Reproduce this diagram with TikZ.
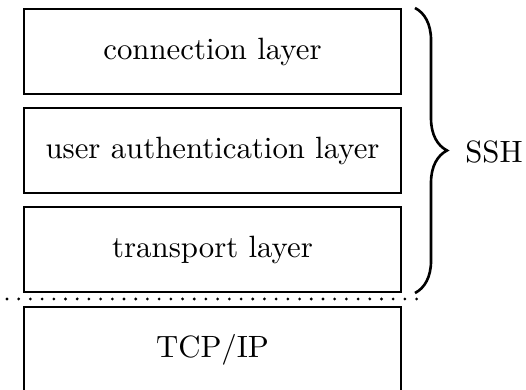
\documentclass[tikz,border=0pt]{standalone}
\usetikzlibrary{decorations.pathreplacing}
\begin{document}
\begin{tikzpicture}[x=0.3247pt, y=-0.3247pt,
  layerbox/.style={draw, line width=0.65pt, inner sep=0pt,
    minimum width=122.4pt, minimum height=27.3pt},
  sepline/.style={line width=1pt, line cap=round, dash pattern=on 0pt off 3.8pt},
  bracestyle/.style={line width=0.85pt, decorate,
    decoration={brace, amplitude=10.4pt}}]
  \useasboundingbox (0,0) rectangle (526,390);
  \clip (0,0) rectangle (526,390);
  % protocol stack
  \node[layerbox] (conn) at (212.5,51.5) {connection layer};
  \node[layerbox] (auth) at (212.5,150.5) {user authentication layer};
  \node[layerbox] (trans) at (212.5,249.5) {transport layer};
  \node[layerbox] (tcp) at (212.5,349.5) {TCP/IP};
  % boundary between SSH and the underlying transport
  \coordinate (sepL) at (7,299);
  \coordinate (sepR) at (419,299);
  \draw[sepline] (sepL) -- (sepR);
  % brace grouping the SSH layers
  \coordinate (btop) at (415,8);
  \coordinate (bbot) at (415,293);
  \draw[bracestyle] (btop) -- (bbot);
  \node (ssh) at (494,152) {SSH};
\end{tikzpicture}
\end{document}
